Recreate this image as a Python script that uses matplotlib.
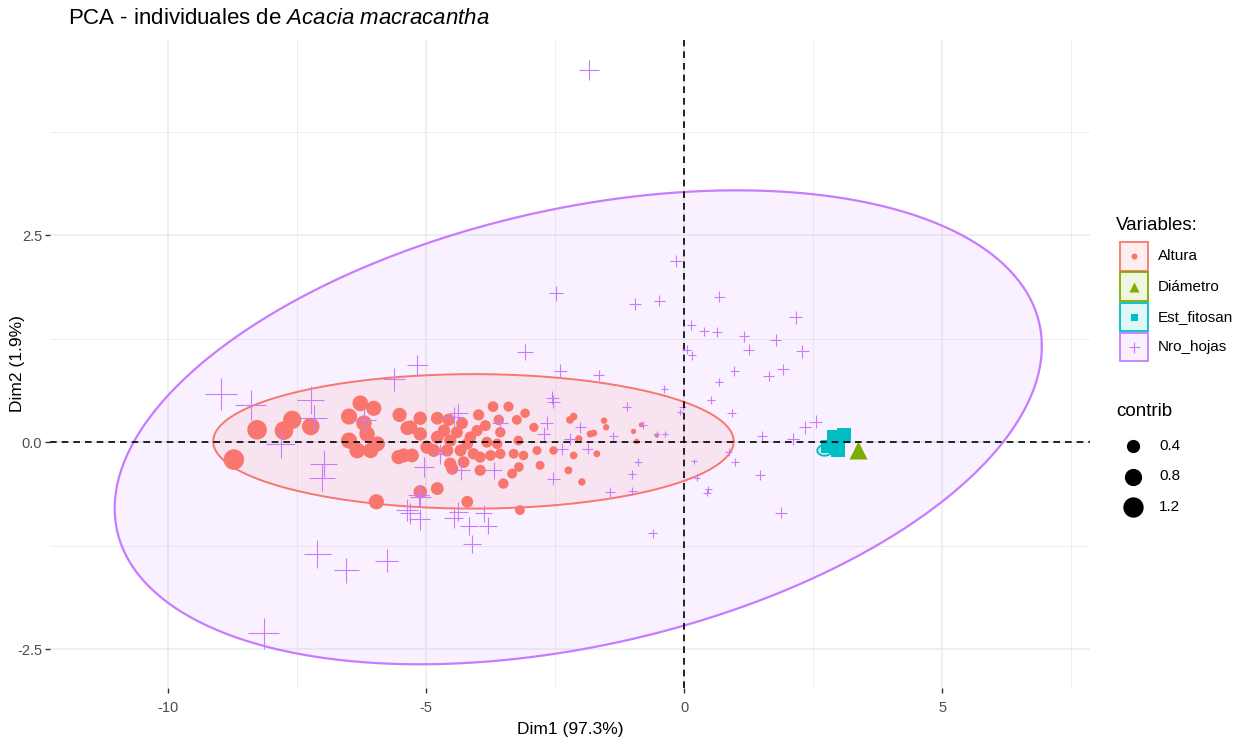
import numpy as np
import matplotlib
matplotlib.use('Agg')
import matplotlib.pyplot as plt
from matplotlib.patches import Rectangle

plt.rcParams['font.family'] = ['Liberation Sans', 'DejaVu Sans']
plt.rcParams['mathtext.fontset'] = 'custom'
plt.rcParams['mathtext.rm'] = 'Liberation Sans'
plt.rcParams['mathtext.it'] = 'Liberation Sans:italic'

# --- data (Dim1, Dim2 coordinates) ---
altura_x = [-8.27, -8.72, -7.75, -7.59, -7.23, -6.49, -6.27, -6.01, -6.20, -6.49,
            -6.33, -6.07, -5.94, -6.14, -5.51, -5.36, -5.53, -5.96, -5.30, -5.11,
            -5.11, -5.43, -5.27, -4.98, -4.78, -4.56, -4.30, -3.98, -3.70, -3.40,
            -3.08, -3.24, -3.59, -3.56, -4.01, -4.14, -4.78, -4.53, -4.85, -4.59,
            -4.33, -4.08, -3.82, -3.56, -3.30, -3.21, -3.11, -3.75, -3.95, -4.53,
            -4.27, -3.95, -4.49, -3.50, -3.33, -3.20, -2.91, -2.85, -2.79, -2.53,
            -2.24, -2.21, -2.14, -2.14, -2.04, -1.82, -1.75, -1.69, -1.98, -5.11,
            -4.78, -4.20, -3.18, -1.55, -1.51, -0.98, -0.92, -0.83, -0.53, -4.40,
            -4.20, -3.62, -4.65, -3.85]
altura_y = [0.15, -0.21, 0.14, 0.27, 0.19, 0.31, 0.47, 0.41, 0.23, 0.02,
            -0.10, -0.10, -0.02, 0.10, 0.33, 0.17, -0.18, -0.72, 0.18, 0.29,
            0.10, -0.16, -0.16, -0.06, 0.29, 0.27, 0.23, 0.33, 0.43, 0.43,
            0.35, 0.27, 0.27, 0.12, 0.14, 0.06, 0.06, 0.02, -0.10, -0.10,
            -0.10, -0.14, 0.00, -0.14, -0.14, 0.02, -0.16, -0.16, -0.18, -0.26,
            -0.24, -0.34, -0.32, -0.50, -0.38, -0.30, 0.18, -0.10, -0.28, -0.10,
            -0.34, 0.27, 0.31, -0.16, 0.04, 0.10, 0.11, -0.14, -0.48, -0.60,
            -0.56, -0.72, -0.82, 0.26, 0.18, 0.13, 0.01, 0.21, 0.08, 0.12,
            -0.02, -0.02, 0.14, 0.20]

hojas_x = [-1.84, -0.16, -2.48, -0.95, -0.48, 0.68, -3.08, 0.14, 0.39, 0.64,
           1.16, 1.25, 1.77, 2.16, 2.29, 0.05, 0.15, -2.40, -1.65, -0.38,
           -2.55, 0.97, 0.68, 1.64, 1.91, 0.52, 2.55, 2.34, 1.51, 2.11,
           1.47, 1.88, -1.11, 0.92, -0.08, -0.03, -0.79, -0.53, -0.37, -1.37,
           0.86, 0.99, 0.19, -0.90, -1.01, 0.25, -1.44, -1.00, 0.47, 0.44,
           -0.61, -1.87, -2.53, -4.37, -2.66, -2.01, -2.72, -2.21, -2.37, -5.04,
           -3.69, -2.53, -3.56, -4.72, -4.33, -5.11, -5.36, -4.37, -3.88, -8.97,
           -8.39, -7.23, -7.17, -7.81, -6.20, -6.98, -7.01, -5.62, -5.17, -4.46,
           -7.10, -6.54, -5.76, -8.14, -5.30, -5.12, -5.14, -4.46, -4.17, -3.80,
           -4.11]
hojas_y = [4.50, 2.19, 1.80, 1.67, 1.71, 1.76, 1.09, 1.42, 1.34, 1.33,
           1.28, 1.12, 1.24, 1.51, 1.10, 1.12, 1.05, 0.86, 0.81, 0.64,
           0.54, 0.86, 0.73, 0.80, 0.88, 0.51, 0.25, 0.18, 0.08, 0.04,
           -0.40, -0.85, 0.43, 0.35, 0.37, 0.43, 0.21, 0.10, 0.10, 0.07,
           -0.12, -0.24, -0.23, -0.24, -0.39, -0.43, -0.60, -0.59, -0.57, -0.61,
           -1.10, -0.08, 0.49, 0.35, 0.23, 0.18, 0.10, 0.04, -0.08, -0.30,
           -0.34, -0.44, 0.23, -0.14, -0.34, -0.66, -0.82, -0.84, -0.86, 0.58,
           0.45, 0.51, 0.29, -0.02, 0.27, -0.26, -0.43, 0.76, 0.93, 0.31,
           -1.35, -1.55, -1.43, -2.31, -0.86, -0.93, -0.64, -0.92, -1.01, -1.01,
           -1.23]

fitosan_x = [2.78, 2.98, 2.89, 3.09]
fitosan_y = [-0.05, -0.09, 0.06, 0.08]
diametro_x = [3.37]
diametro_y = [-0.10]

# confidence ellipses: centre and covariance-like spread matrix
ell_hojas = ((-2.05, 0.18), [[80.6, 8.8], [8.8, 8.2]])
ell_altura = ((-4.08, 0.01), [[25.4, 0.0], [0.0, 0.66]])
ell_fitosan = ((2.72, -0.10), [[0.02, 0.0], [0.0, 0.004]])

groups = ['Altura', 'Diámetro', 'Est_fitosan', 'Nro_hojas']
contrib_breaks = [0.4, 0.8, 1.2]
contrib_den = 62.3   # (x^2 + y^2) / contrib_den -> contribution in %

RED, GREEN, CYAN, PURPLE = '#F8766D', '#7CAE00', '#00BFC4', '#C77CFF'

W, H, DPI = 1249, 744, 100
fig = plt.figure(figsize=(W / DPI, H / DPI), dpi=DPI)


def px_box(l, t, r, b):
    return [l / W, 1 - b / H, (r - l) / W, (b - t) / H]


ax = fig.add_axes(px_box(50, 40, 1090, 688))

all_x = np.concatenate([altura_x, hojas_x, fitosan_x, diametro_x])
all_y = np.concatenate([altura_y, hojas_y, fitosan_y, diametro_y])
all_c = (all_x ** 2 + all_y ** 2) / contrib_den
cmin, cmax = all_c.min(), all_c.max()
PX_PER_SIZE = 3.5


def size_px(c):
    c = np.asarray(c, dtype=float)
    return PX_PER_SIZE * (1 + 5 * np.sqrt(np.clip((c - cmin) / (cmax - cmin), 0, 1)))


def msize(x, y, factor=1.0):
    c = (np.asarray(x) ** 2 + np.asarray(y) ** 2) / contrib_den
    return (size_px(c) * factor * 72 / DPI) ** 2


def draw_ellipse(ell, color, lw=1.4):
    (cx, cy), cov = ell
    L = np.linalg.cholesky(np.array(cov))
    t = np.linspace(0, 2 * np.pi, 200)
    pts = L @ np.vstack([np.cos(t), np.sin(t)])
    ax.fill(cx + pts[0], cy + pts[1], facecolor=color, alpha=0.1, edgecolor='none', zorder=1)
    ax.plot(cx + pts[0], cy + pts[1], color=color, lw=lw, zorder=2)


draw_ellipse(ell_hojas, PURPLE, 1.6)
draw_ellipse(ell_altura, RED, 1.4)
draw_ellipse(ell_fitosan, CYAN, 1.4)

ax.scatter(altura_x, altura_y, s=msize(altura_x, altura_y), c=RED, marker='o',
           linewidths=0, zorder=3)
ax.scatter(hojas_x, hojas_y, s=msize(hojas_x, hojas_y, 1.55), c=PURPLE, marker='+',
           linewidths=0.8, zorder=4)
ax.scatter(fitosan_x, fitosan_y, s=msize(fitosan_x, fitosan_y, 1.5), c=CYAN, marker='s',
           linewidths=0, zorder=3)
ax.scatter(diametro_x, diametro_y, s=msize(diametro_x, diametro_y, 1.8), c=GREEN, marker='^',
           linewidths=0, zorder=3)

ax.axhline(0, color='black', lw=1.2, ls=(0, (4, 3)), zorder=5)
ax.axvline(0, color='black', lw=1.2, ls=(0, (4, 3)), zorder=5)

ax.set_xlim(-12.28, 7.86)
ax.set_ylim(-2.97, 4.86)
ax.set_xticks([-10, -5, 0, 5])
ax.set_xticklabels(['-10', '-5', '0', '5'])
ax.set_xticks([-7.5, -2.5, 2.5, 7.5], minor=True)
ax.set_yticks([-2.5, 0, 2.5])
ax.set_yticklabels(['-2.5', '0.0', '2.5'])
ax.set_yticks([-1.25, 1.25, 3.75], minor=True)
ax.grid(which='major', color='#EBEBEB', lw=1.1)
ax.grid(which='minor', color='#EBEBEB', lw=0.6)
ax.set_axisbelow(True)
for s in ax.spines.values():
    s.set_visible(False)
ax.tick_params(which='major', length=3.5, width=1, color='#333333',
               labelcolor='#4D4D4D', labelsize=10.5)
ax.tick_params(axis='x', pad=6)
ax.tick_params(axis='y', pad=2)
ax.tick_params(which='minor', length=0)
ax.set_xlabel('Dim1 (97.3%)', fontsize=12.5, labelpad=5)
ax.set_ylabel('Dim2 (1.9%)', fontsize=12.5, va='center')
ax.yaxis.set_label_coords(-32 / 1040, 0.5)

fig.text(68 / W, 1 - 19 / H, r'PCA - individuales de $\mathit{Acacia\ macracantha}$',
         fontsize=16, va='center', ha='left')

# --- legends drawn in figure pixel space ---
lax = fig.add_axes([0, 0, 1, 1], zorder=10)
lax.set_xlim(0, W)
lax.set_ylim(H, 0)
lax.axis('off')
lax.patch.set_alpha(0)

lax.text(1116, 225, 'Variables:', fontsize=13.5, va='center', ha='left')
key_colors = [RED, GREEN, CYAN, PURPLE]
key_markers = ['o', '^', 's', '+']
key_px = [6, 10, 7, 11]
for i, (g, col, mk, kp) in enumerate(zip(groups, key_colors, key_markers, key_px)):
    top = 242 + i * 30.3
    lax.add_patch(Rectangle((1120, top), 28, 28.5, facecolor=col, alpha=0.12,
                            edgecolor='none'))
    lax.add_patch(Rectangle((1120, top), 28, 28.5, facecolor='none', edgecolor=col, lw=1.3))
    lax.scatter([1134], [top + 14.25], s=(kp * 72 / DPI) ** 2, c=col, marker=mk,
                linewidths=0.8 if mk == '+' else 0)
    lax.text(1158, top + 14.5, g, fontsize=11, va='center', ha='left')

lax.text(1116, 411, 'contrib', fontsize=13.5, va='center', ha='left')
for i, b in enumerate(contrib_breaks):
    yy = 446 + i * 30.5
    lax.scatter([1133], [yy], s=(size_px(b) * 72 / DPI) ** 2, c='black', marker='o',
                linewidths=0)
    lax.text(1159, yy, f'{b:.1f}', fontsize=11, va='center', ha='left')

fig.savefig('out.png', dpi=DPI, facecolor='white')
